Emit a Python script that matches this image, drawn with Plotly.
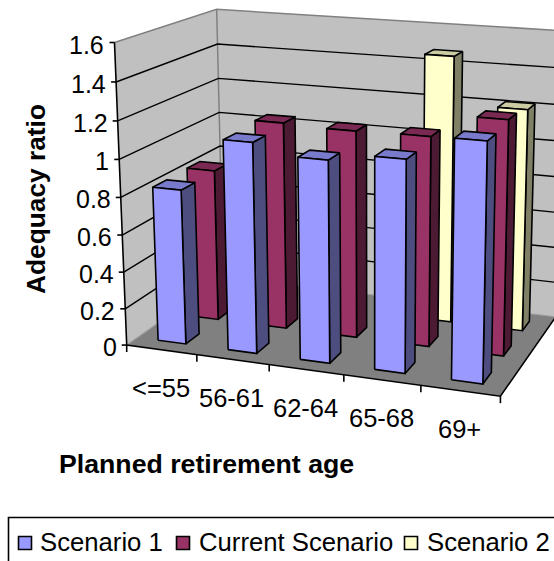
import numpy as np
import plotly.graph_objects as go

# Chart data
categories = ["<=55", "56-61", "62-64", "65-68", "69+"]
scenario_1 = [0.835, 1.12, 1.065, 1.105, 1.23]
current_scenario = [0.84, 1.135, 1.125, 1.13, 1.25]
scenario_2 = [None, None, None, 1.475, 1.22]
series_names = ["Scenario 1", "Current Scenario", "Scenario 2"]
z_ticks = [0, 0.2, 0.4, 0.6, 0.8, 1, 1.2, 1.4, 1.6]
z_tick_labels = ["0", "0.2", "0.4", "0.6", "0.8", "1", "1.2", "1.4", "1.6"]

# Face colours per series: front, side, top
palette = [
    ("#9999FF", "#4D4D80", "#7A7ACC"),
    ("#993366", "#4D1A33", "#7A2952"),
    ("#FFFFCC", "#808066", "#CCCCA3"),
]
WALL = "#C0C0C0"
FLOOR = "#808080"
EDGE = "#808080"
FONT = "Liberation Sans"
Z_TICK_SIZE = 25
CAT_TICK_SIZE = 25.5
LEGEND_SIZE = 25.7
TITLE_SIZE = 26.7

# Camera calibration: box corners (category, depth, value), page position, fit weight
Z_MAX = 1.6
N = len(categories)
camera_pairs = [
    ((0, 0, 0), (126, 345), 4),
    ((N, 0, 0), (500, 396), 4),
    ((0, 1, 0), (224, 277), 4),
    ((N, 1, 0), (556, 317), 4),
    ((0, 0, Z_MAX), (115, 43), 4),
    ((N, 0, Z_MAX), (508, 70), 4),
    ((0, 1, Z_MAX), (216, 9), 4),
    ((N, 1, Z_MAX), (564, 31), 4),
]


def fit_camera(pairs):
    rows, rhs = [], []
    for (x, y, z), (u, v), w in pairs:
        rows.append([w * c for c in (x, y, z, 1, 0, 0, 0, 0, -u * x, -u * y, -u * z)])
        rhs.append(w * u)
        rows.append([w * c for c in (0, 0, 0, 0, x, y, z, 1, -v * x, -v * y, -v * z)])
        rhs.append(w * v)
    p = np.linalg.lstsq(np.array(rows, float), np.array(rhs, float), rcond=None)[0]
    return np.append(p, 1.0).reshape(3, 4)


CAM = fit_camera(camera_pairs)


def proj(x, y, z):
    h = CAM @ np.array([x, y, z, 1.0])
    return h[0] / h[2], h[1] / h[2]


fig = go.Figure()


def poly(points, fill=None, line=None, width=0.0, name=None):
    xs = [p[0] for p in points]
    ys = [p[1] for p in points]
    if fill:
        xs.append(xs[0])
        ys.append(ys[0])
    fig.add_trace(go.Scatter(
        x=xs, y=ys, mode="lines",
        fill="toself" if fill else None,
        fillcolor=fill,
        line=dict(color=line or "rgba(0,0,0,0)", width=width),
        hoverinfo="skip", showlegend=False, name=name,
    ))


# Walls and floor
poly([proj(0, 0, 0), proj(0, 1, 0), proj(0, 1, Z_MAX), proj(0, 0, Z_MAX)], WALL)
poly([proj(0, 1, 0), proj(N, 1, 0), proj(N, 1, Z_MAX), proj(0, 1, Z_MAX)], WALL)
poly([proj(0, 0, 0), proj(N, 0, 0), proj(N, 1, 0), proj(0, 1, 0)], FLOOR)

# Grey box edges
poly([proj(0, 0, Z_MAX), proj(0, 1, Z_MAX), proj(N, 1, Z_MAX)], line=EDGE, width=1.5)
poly([proj(0, 1, Z_MAX), proj(0, 1, 0)], line=EDGE, width=1.5)
poly([proj(0, 0, 0), proj(0, 1, 0), proj(N, 1, 0)], line="#A0A0A0", width=1.2)

# Gridlines over both walls
for z in z_ticks[1:-1]:
    poly([proj(0, 0, z), proj(0, 1, z), proj(N, 1, z)], line="black", width=1.4)

# Bars, furthest row first
all_series = [scenario_1, current_scenario, scenario_2]
ROWS = 3
for row in reversed(range(ROWS)):
    values = all_series[row]
    front_c, side_c, top_c = palette[row]
    y0, y1 = (row + 0.3) / ROWS, (row + 0.7) / ROWS
    for i, v in enumerate(values):
        if v is None:
            continue
        x0, x1 = i + 0.3, i + 0.7
        poly([proj(x1, y0, 0), proj(x1, y1, 0), proj(x1, y1, v), proj(x1, y0, v)],
             side_c, "black", 1.6, series_names[row])
        poly([proj(x0, y0, v), proj(x1, y0, v), proj(x1, y1, v), proj(x0, y1, v)],
             top_c, "black", 1.6, series_names[row])
        poly([proj(x0, y0, 0), proj(x1, y0, 0), proj(x1, y0, v), proj(x0, y0, v)],
             front_c, "black", 1.6, series_names[row])

# Axis lines and tick marks
poly([proj(0, 0, Z_MAX), proj(0, 0, 0), proj(N, 0, 0), proj(N, 1, 0)], line="black", width=1.6)
annotations = []
for z, label in zip(z_ticks, z_tick_labels):
    px, py = proj(0, 0, z)
    poly([(px - 5, py), (px, py)], line="black", width=1.6)
    annotations.append(dict(x=px - 8, y=py + 2, text=label, xanchor="right", yanchor="middle",
                            showarrow=False, font=dict(family=FONT, size=Z_TICK_SIZE, color="black")))
for i in range(N + 1):
    px, py = proj(i, 0, 0)
    poly([(px, py), (px, py + 7)], line="black", width=1.6)
for i, label in enumerate(categories):
    px, py = proj(i + 0.5, 0, 0)
    annotations.append(dict(x=px - 1, y=py + 38, text=label, xanchor="center", yanchor="middle",
                            showarrow=False, font=dict(family=FONT, size=CAT_TICK_SIZE, color="black")))

# Axis titles
annotations.append(dict(x=36, y=199, text="<b>Adequacy ratio</b>", textangle=-90, xanchor="center",
                        yanchor="middle", showarrow=False,
                        font=dict(family=FONT, size=26.3, color="black")))
annotations.append(dict(x=206, y=464, text="<b>Planned retirement age</b>", xanchor="center",
                        yanchor="middle", showarrow=False,
                        font=dict(family=FONT, size=TITLE_SIZE, color="black")))

# Legend frame, swatches and labels
poly([(8.5, 570), (8.5, 517.5), (570, 517.5)], line="black", width=1.6)
legend_swatch_x = [25, 183, 411]
legend_label_x = [38, 197, 425]
for x, tx, name, colours in zip(legend_swatch_x, legend_label_x, series_names, palette):
    fig.add_trace(go.Scatter(
        x=[x], y=[543], mode="markers", name=name, showlegend=False, hoverinfo="skip",
        marker=dict(symbol="square", size=13, color=colours[0], line=dict(color="black", width=1.6)),
    ))
    annotations.append(dict(x=tx, y=542, text=name, xanchor="left", yanchor="middle",
                            showarrow=False, font=dict(family=FONT, size=LEGEND_SIZE, color="black")))

fig.update_layout(
    width=554, height=561, autosize=False,
    margin=dict(l=0, r=0, t=0, b=0),
    paper_bgcolor="white", plot_bgcolor="white",
    xaxis=dict(range=[0, 554], visible=False, fixedrange=True),
    yaxis=dict(range=[561, 0], visible=False, fixedrange=True),
    annotations=annotations,
    showlegend=False,
)
fig.write_html("out.html", config=dict(displayModeBar=False))
